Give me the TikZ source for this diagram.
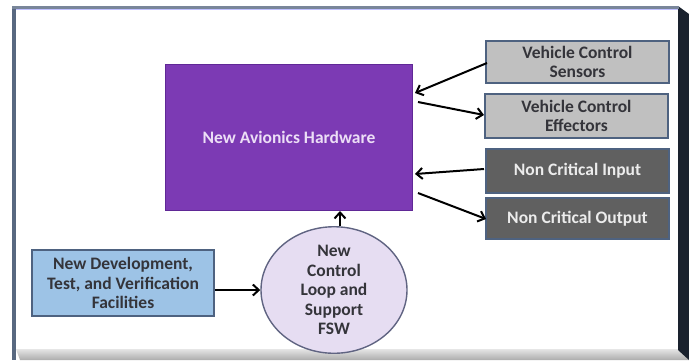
\documentclass[tikz,border=0pt]{standalone}
\usepackage{fontspec}
\setmainfont{Carlito}
\usetikzlibrary{arrows.meta,shapes.geometric}

\definecolor{hwfill}{RGB}{124,58,180}
\definecolor{hwedge}{RGB}{96,40,150}
\definecolor{hwtext}{RGB}{236,222,246}
\definecolor{lgfill}{RGB}{192,192,192}
\definecolor{dgfill}{RGB}{96,96,96}
\definecolor{boxedge}{RGB}{78,98,128}
\definecolor{bluefill}{RGB}{157,195,230}
\definecolor{ellfill}{RGB}{230,221,242}
\definecolor{elledge}{RGB}{96,100,130}
\definecolor{darktext}{RGB}{52,52,58}
\definecolor{lighttext}{RGB}{236,236,236}
\definecolor{frameedge}{RGB}{88,104,128}
\definecolor{frameshadow}{RGB}{26,34,46}

\tikzset{
  lbl/.style={font=\fontsize{17.5}{19.5}\selectfont\bfseries, align=center, inner sep=0pt},
  hwbox/.style={lbl, draw=hwedge, line width=1pt, fill=hwfill, text=hwtext},
  sensorbox/.style={lbl, draw=boxedge, line width=1.6pt, fill=lgfill, text=darktext},
  iobox/.style={lbl, draw=boxedge, line width=1.6pt, fill=dgfill, text=lighttext},
  facbox/.style={lbl, draw=boxedge, line width=1.6pt, fill=bluefill, text=darktext},
  fswell/.style={lbl, ellipse, draw=elledge, line width=1.4pt, fill=ellfill, text=darktext,
    minimum width=146pt, minimum height=114pt},
  link/.style={line width=2pt, -{Straight Barb[length=6pt,width=11pt,line width=2pt]}}
}

\begin{document}
\begin{tikzpicture}[x=1pt,y=-1pt]
\useasboundingbox (0,0) rectangle (689,360);

% bevelled frame
\fill[white] (12,6) rectangle (680,352);
\shade[top color=gray!20, bottom color=gray!65] (16,349) -- (680,349) -- (689,360) -- (20,360) -- cycle;
\fill[frameshadow] (678,6) -- (689,14) -- (689,360) -- (678,350) -- cycle;
\fill[frameedge] (12,6) rectangle (16,360);
\fill[frameedge!80!white] (12,6) rectangle (679,8.5);
\fill[blue!25!white] (16,8.5) rectangle (678,10);

% boxes
\node[hwbox, minimum width=247pt, minimum height=146pt] (hw) at (289,137.5) {New Avionics Hardware};
\node[sensorbox, minimum width=183pt, minimum height=42pt] (sens) at (577.5,62) {Vehicle Control\\Sensors};
\node[sensorbox, minimum width=183pt, minimum height=44pt] (eff) at (576.5,116) {Vehicle Control\\Effectors};
\node[iobox, minimum width=183pt, minimum height=44pt] (nin) at (577.5,171) {Non Critical Input};
\node[iobox, minimum width=183pt, minimum height=41pt] (nout) at (577.5,218.5) {Non Critical Output};
\node[facbox, minimum width=182pt, minimum height=66pt] (fac) at (123,283) {New Development,\\Test, and Verification\\Facilities};
\node[fswell] (fsw) at (334,290) {New\\Control\\Loop and\\Support\\FSW};

% connectors
\coordinate (hwA) at (415,93);
\coordinate (hwB) at (418,102);
\coordinate (hwC) at (415,174);
\coordinate (hwD) at (418,193);
\coordinate (sensA) at (487,63);
\coordinate (effB) at (484,115);
\coordinate (ninC) at (484,169);
\coordinate (noutD) at (486,219);

\draw[link] (sensA) -- (hwA);
\draw[link] (hwB) -- (effB);
\draw[link] (ninC) -- (hwC);
\draw[link] (hwD) -- (noutD);
\draw[link] (fsw.north -| 340,0) -- (hw.south -| 340,0);
\draw[link] (fac.east |- fsw.west) -- (fsw.west);
\end{tikzpicture}
\end{document}
